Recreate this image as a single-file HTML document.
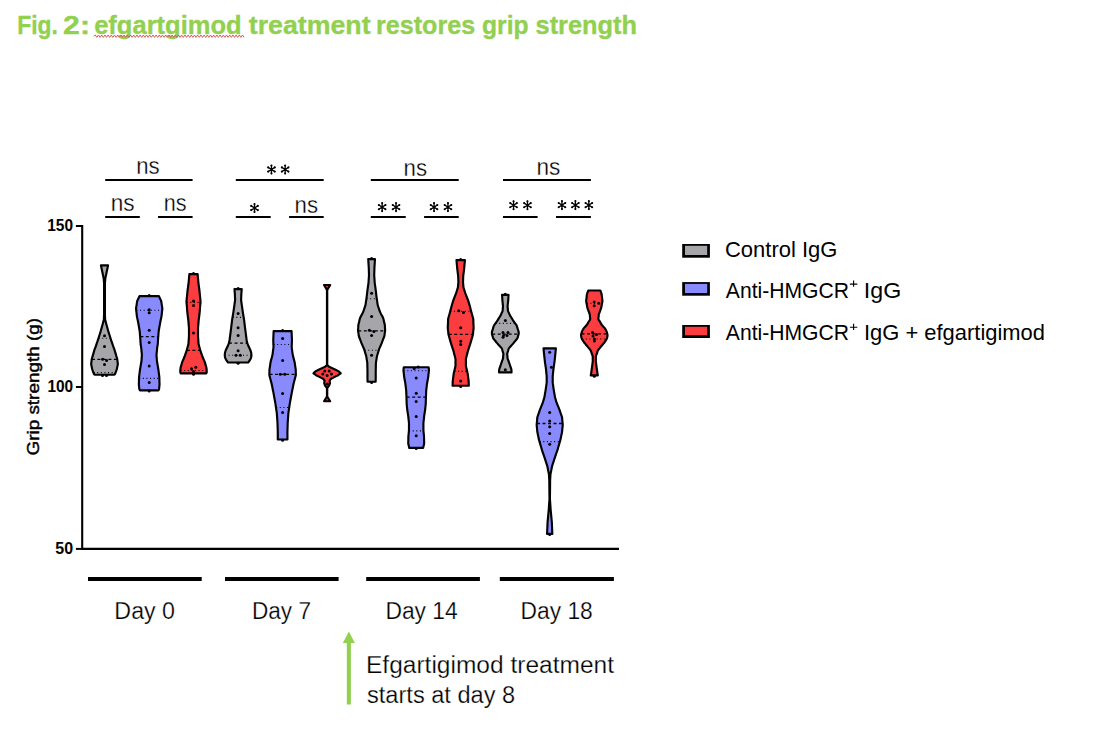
<!DOCTYPE html>
<html><head><meta charset="utf-8"><style>
html,body{margin:0;padding:0;background:#fff;width:1104px;height:739px;overflow:hidden;font-family:"Liberation Sans", sans-serif;}
</style></head><body>
<svg width="1104" height="739" viewBox="0 0 1104 739" style="position:absolute;left:0;top:0;font-family:'Liberation Sans', sans-serif"><text x="17.18" y="34.00" font-size="26.00" font-weight="bold" fill="#92d050" textLength="40.65" lengthAdjust="spacingAndGlyphs" stroke="#92d050" stroke-width="0.35">Fig.</text>
<text x="63.13" y="34.00" font-size="26.00" font-weight="bold" fill="#92d050" textLength="26.86" lengthAdjust="spacingAndGlyphs" stroke="#92d050" stroke-width="0.35">2:</text>
<text x="94.20" y="34.00" font-size="26.00" font-weight="bold" fill="#92d050" textLength="147.40" lengthAdjust="spacingAndGlyphs" stroke="#92d050" stroke-width="0.35">efgartgimod</text>
<text x="248.80" y="34.00" font-size="26.00" font-weight="bold" fill="#92d050" textLength="121.79" lengthAdjust="spacingAndGlyphs" stroke="#92d050" stroke-width="0.35">treatment</text>
<text x="375.99" y="34.00" font-size="26.00" font-weight="bold" fill="#92d050" textLength="99.21" lengthAdjust="spacingAndGlyphs" stroke="#92d050" stroke-width="0.35">restores</text>
<text x="482.01" y="34.00" font-size="26.00" font-weight="bold" fill="#92d050" textLength="46.59" lengthAdjust="spacingAndGlyphs" stroke="#92d050" stroke-width="0.35">grip</text>
<text x="535.59" y="34.00" font-size="26.00" font-weight="bold" fill="#92d050" textLength="101.42" lengthAdjust="spacingAndGlyphs" stroke="#92d050" stroke-width="0.35">strength</text>
<text x="47.24" y="230.80" font-size="17.20" font-weight="bold" fill="#000" textLength="25.76" lengthAdjust="spacingAndGlyphs">150</text>
<text x="47.43" y="392.00" font-size="17.20" font-weight="bold" fill="#000" textLength="25.75" lengthAdjust="spacingAndGlyphs">100</text>
<text x="55.25" y="553.90" font-size="17.20" font-weight="bold" fill="#000" textLength="17.79" lengthAdjust="spacingAndGlyphs">50</text>
<text x="114.36" y="618.70" font-size="23.00" font-weight="normal" fill="#000" textLength="60.66" lengthAdjust="spacingAndGlyphs" stroke="#fff" stroke-width="0.25">Day 0</text>
<text x="251.98" y="618.70" font-size="23.00" font-weight="normal" fill="#000" textLength="59.03" lengthAdjust="spacingAndGlyphs" stroke="#fff" stroke-width="0.25">Day 7</text>
<text x="385.39" y="618.70" font-size="23.00" font-weight="normal" fill="#000" textLength="72.41" lengthAdjust="spacingAndGlyphs" stroke="#fff" stroke-width="0.25">Day 14</text>
<text x="520.59" y="618.70" font-size="23.00" font-weight="normal" fill="#000" textLength="72.22" lengthAdjust="spacingAndGlyphs" stroke="#fff" stroke-width="0.25">Day 18</text>
<text x="136.21" y="173.70" font-size="23.30" font-weight="normal" fill="#000" textLength="23.40" lengthAdjust="spacingAndGlyphs" stroke="#fff" stroke-width="0.3">ns</text>
<text x="110.78" y="210.70" font-size="23.30" font-weight="normal" fill="#000" textLength="23.83" lengthAdjust="spacingAndGlyphs" stroke="#fff" stroke-width="0.3">ns</text>
<text x="163.82" y="210.70" font-size="23.30" font-weight="normal" fill="#000" textLength="22.78" lengthAdjust="spacingAndGlyphs" stroke="#fff" stroke-width="0.3">ns</text>
<text x="294.58" y="212.80" font-size="23.30" font-weight="normal" fill="#000" textLength="23.43" lengthAdjust="spacingAndGlyphs" stroke="#fff" stroke-width="0.3">ns</text>
<text x="403.58" y="176.00" font-size="23.30" font-weight="normal" fill="#000" textLength="23.43" lengthAdjust="spacingAndGlyphs" stroke="#fff" stroke-width="0.3">ns</text>
<text x="536.38" y="174.70" font-size="23.30" font-weight="normal" fill="#000" textLength="23.83" lengthAdjust="spacingAndGlyphs" stroke="#fff" stroke-width="0.3">ns</text>
<text x="725.00" y="256.50" font-size="22.40" font-weight="normal" fill="#000" textLength="112.41" lengthAdjust="spacingAndGlyphs">Control IgG</text>
<text x="725.80" y="297.70" font-size="22.40" font-weight="normal" fill="#000" textLength="123.19" lengthAdjust="spacingAndGlyphs">Anti-HMGCR</text>
<text x="863.88" y="297.70" font-size="22.40" font-weight="normal" fill="#000" textLength="37.40" lengthAdjust="spacingAndGlyphs">IgG</text>
<text x="725.80" y="340.30" font-size="22.40" font-weight="normal" fill="#000" textLength="123.19" lengthAdjust="spacingAndGlyphs">Anti-HMGCR</text>
<text x="863.98" y="340.30" font-size="22.40" font-weight="normal" fill="#000" textLength="181.03" lengthAdjust="spacingAndGlyphs">IgG + efgartigimod</text>
<text x="366.00" y="672.90" font-size="23.00" font-weight="normal" fill="#000" textLength="248.00" lengthAdjust="spacingAndGlyphs" stroke="#fff" stroke-width="0.25">Efgartigimod treatment</text>
<text x="367.00" y="702.80" font-size="23.00" font-weight="normal" fill="#000" textLength="148.19" lengthAdjust="spacingAndGlyphs" stroke="#fff" stroke-width="0.25">starts at day 8</text>
<path d="M849.9 284.15 H857.3 M853.6 280.60 V286.80" stroke="#000" stroke-width="1.1" fill="none"/>
<path d="M849.9 327.25 H857.3 M853.6 323.70 V329.90" stroke="#000" stroke-width="1.1" fill="none"/>
<path d="M93.7 36.2 L95.3 35.0 L96.9 37.4 L98.5 35.0 L100.1 37.4 L101.7 35.0 L103.3 37.4 L104.9 35.0 L106.5 37.4 L108.1 35.0 L109.7 37.4 L111.3 35.0 L112.9 37.4 L114.5 35.0 L116.1 37.4 L117.7 35.0 L119.3 37.4 L120.9 35.0 L122.5 37.4 L124.1 35.0 L125.7 37.4 L127.3 35.0 L128.9 37.4 L130.5 35.0 L132.1 37.4 L133.7 35.0 L135.3 37.4 L136.9 35.0 L138.5 37.4 L140.1 35.0 L141.7 37.4 L143.3 35.0 L144.9 37.4 L146.5 35.0 L148.1 37.4 L149.7 35.0 L151.3 37.4 L152.9 35.0 L154.5 37.4 L156.1 35.0 L157.7 37.4 L159.3 35.0 L160.9 37.4 L162.5 35.0 L164.1 37.4 L165.7 35.0 L167.3 37.4 L168.9 35.0 L170.5 37.4 L172.1 35.0 L173.7 37.4 L175.3 35.0 L176.9 37.4 L178.5 35.0 L180.1 37.4 L181.7 35.0 L183.3 37.4 L184.9 35.0 L186.5 37.4 L188.1 35.0 L189.7 37.4 L191.3 35.0 L192.9 37.4 L194.5 35.0 L196.1 37.4 L197.7 35.0 L199.3 37.4 L200.9 35.0 L202.5 37.4 L204.1 35.0 L205.7 37.4 L207.3 35.0 L208.9 37.4 L210.5 35.0 L212.1 37.4 L213.7 35.0 L215.3 37.4 L216.9 35.0 L218.5 37.4 L220.1 35.0 L221.7 37.4 L223.3 35.0 L224.9 37.4 L226.5 35.0 L228.1 37.4 L229.7 35.0 L231.3 37.4 L232.9 35.0 L234.5 37.4 L236.1 35.0 L237.7 37.4 L239.3 35.0 L240.9 37.4 L242.5 35.0 L244.1 37.4" fill="none" stroke="#e05a5a" stroke-width="1.0"/>
<path d="M82.2 225 L82.2 548.9 L619 548.9" fill="none" stroke="#000" stroke-width="2.1"/>
<line x1="75.9" y1="226.0" x2="82" y2="226.0" stroke="#000" stroke-width="2"/>
<line x1="75.9" y1="387.0" x2="82" y2="387.0" stroke="#000" stroke-width="2"/>
<line x1="75.9" y1="548.9" x2="82" y2="548.9" stroke="#000" stroke-width="2"/>
<text transform="translate(38.8 455.5) rotate(-90)" font-size="16.8" font-weight="normal" stroke="#000" stroke-width="0.45" textLength="137.5" lengthAdjust="spacingAndGlyphs">Grip strength (g)</text>
<rect x="88.0" y="577" width="113.7" height="4" fill="#000"/>
<rect x="225.0" y="577" width="113.6" height="4" fill="#000"/>
<rect x="366.2" y="577" width="113.7" height="4" fill="#000"/>
<rect x="499.8" y="577" width="114.1" height="4" fill="#000"/>
<rect x="105.2" y="179.0" width="87.4" height="2" fill="#000"/>
<rect x="235.8" y="179.0" width="87.9" height="2" fill="#000"/>
<rect x="370.8" y="179.0" width="87.9" height="2" fill="#000"/>
<rect x="503.0" y="179.0" width="87.9" height="2" fill="#000"/>
<rect x="105.2" y="216.0" width="34.6" height="2" fill="#000"/>
<rect x="158.0" y="216.0" width="34.6" height="2" fill="#000"/>
<rect x="235.8" y="216.0" width="34.9" height="2" fill="#000"/>
<rect x="289.1" y="216.0" width="34.6" height="2" fill="#000"/>
<rect x="370.8" y="216.0" width="34.9" height="2" fill="#000"/>
<rect x="424.1" y="216.0" width="34.6" height="2" fill="#000"/>
<rect x="503.0" y="216.0" width="34.6" height="2" fill="#000"/>
<rect x="556.0" y="216.0" width="34.9" height="2" fill="#000"/>
<path d="M271.45 169.50 L271.45 165.50 M271.45 169.50 L271.45 173.50 M271.45 169.50 L274.75 167.40 M271.45 169.50 L274.75 171.60 M271.45 169.50 L268.15 167.40 M271.45 169.50 L268.15 171.60 " stroke="#000" stroke-width="1.3" stroke-linecap="round" fill="none"/><circle cx="271.45" cy="165.50" r="1.05" fill="#000"/><circle cx="271.45" cy="173.50" r="1.05" fill="#000"/><circle cx="274.75" cy="167.40" r="1.05" fill="#000"/><circle cx="274.75" cy="171.60" r="1.05" fill="#000"/><circle cx="268.15" cy="167.40" r="1.05" fill="#000"/><circle cx="268.15" cy="171.60" r="1.05" fill="#000"/><path d="M285.15 169.50 L285.15 165.50 M285.15 169.50 L285.15 173.50 M285.15 169.50 L288.45 167.40 M285.15 169.50 L288.45 171.60 M285.15 169.50 L281.85 167.40 M285.15 169.50 L281.85 171.60 " stroke="#000" stroke-width="1.3" stroke-linecap="round" fill="none"/><circle cx="285.15" cy="165.50" r="1.05" fill="#000"/><circle cx="285.15" cy="173.50" r="1.05" fill="#000"/><circle cx="288.45" cy="167.40" r="1.05" fill="#000"/><circle cx="288.45" cy="171.60" r="1.05" fill="#000"/><circle cx="281.85" cy="167.40" r="1.05" fill="#000"/><circle cx="281.85" cy="171.60" r="1.05" fill="#000"/>
<path d="M254.50 208.00 L254.50 204.00 M254.50 208.00 L254.50 212.00 M254.50 208.00 L257.80 205.90 M254.50 208.00 L257.80 210.10 M254.50 208.00 L251.20 205.90 M254.50 208.00 L251.20 210.10 " stroke="#000" stroke-width="1.3" stroke-linecap="round" fill="none"/><circle cx="254.50" cy="204.00" r="1.05" fill="#000"/><circle cx="254.50" cy="212.00" r="1.05" fill="#000"/><circle cx="257.80" cy="205.90" r="1.05" fill="#000"/><circle cx="257.80" cy="210.10" r="1.05" fill="#000"/><circle cx="251.20" cy="205.90" r="1.05" fill="#000"/><circle cx="251.20" cy="210.10" r="1.05" fill="#000"/>
<path d="M382.15 207.10 L382.15 203.10 M382.15 207.10 L382.15 211.10 M382.15 207.10 L385.45 205.00 M382.15 207.10 L385.45 209.20 M382.15 207.10 L378.85 205.00 M382.15 207.10 L378.85 209.20 " stroke="#000" stroke-width="1.3" stroke-linecap="round" fill="none"/><circle cx="382.15" cy="203.10" r="1.05" fill="#000"/><circle cx="382.15" cy="211.10" r="1.05" fill="#000"/><circle cx="385.45" cy="205.00" r="1.05" fill="#000"/><circle cx="385.45" cy="209.20" r="1.05" fill="#000"/><circle cx="378.85" cy="205.00" r="1.05" fill="#000"/><circle cx="378.85" cy="209.20" r="1.05" fill="#000"/><path d="M396.05 207.10 L396.05 203.10 M396.05 207.10 L396.05 211.10 M396.05 207.10 L399.35 205.00 M396.05 207.10 L399.35 209.20 M396.05 207.10 L392.75 205.00 M396.05 207.10 L392.75 209.20 " stroke="#000" stroke-width="1.3" stroke-linecap="round" fill="none"/><circle cx="396.05" cy="203.10" r="1.05" fill="#000"/><circle cx="396.05" cy="211.10" r="1.05" fill="#000"/><circle cx="399.35" cy="205.00" r="1.05" fill="#000"/><circle cx="399.35" cy="209.20" r="1.05" fill="#000"/><circle cx="392.75" cy="205.00" r="1.05" fill="#000"/><circle cx="392.75" cy="209.20" r="1.05" fill="#000"/>
<path d="M434.05 207.10 L434.05 203.10 M434.05 207.10 L434.05 211.10 M434.05 207.10 L437.35 205.00 M434.05 207.10 L437.35 209.20 M434.05 207.10 L430.75 205.00 M434.05 207.10 L430.75 209.20 " stroke="#000" stroke-width="1.3" stroke-linecap="round" fill="none"/><circle cx="434.05" cy="203.10" r="1.05" fill="#000"/><circle cx="434.05" cy="211.10" r="1.05" fill="#000"/><circle cx="437.35" cy="205.00" r="1.05" fill="#000"/><circle cx="437.35" cy="209.20" r="1.05" fill="#000"/><circle cx="430.75" cy="205.00" r="1.05" fill="#000"/><circle cx="430.75" cy="209.20" r="1.05" fill="#000"/><path d="M447.95 207.10 L447.95 203.10 M447.95 207.10 L447.95 211.10 M447.95 207.10 L451.25 205.00 M447.95 207.10 L451.25 209.20 M447.95 207.10 L444.65 205.00 M447.95 207.10 L444.65 209.20 " stroke="#000" stroke-width="1.3" stroke-linecap="round" fill="none"/><circle cx="447.95" cy="203.10" r="1.05" fill="#000"/><circle cx="447.95" cy="211.10" r="1.05" fill="#000"/><circle cx="451.25" cy="205.00" r="1.05" fill="#000"/><circle cx="451.25" cy="209.20" r="1.05" fill="#000"/><circle cx="444.65" cy="205.00" r="1.05" fill="#000"/><circle cx="444.65" cy="209.20" r="1.05" fill="#000"/>
<path d="M513.55 205.20 L513.55 201.20 M513.55 205.20 L513.55 209.20 M513.55 205.20 L516.85 203.10 M513.55 205.20 L516.85 207.30 M513.55 205.20 L510.25 203.10 M513.55 205.20 L510.25 207.30 " stroke="#000" stroke-width="1.3" stroke-linecap="round" fill="none"/><circle cx="513.55" cy="201.20" r="1.05" fill="#000"/><circle cx="513.55" cy="209.20" r="1.05" fill="#000"/><circle cx="516.85" cy="203.10" r="1.05" fill="#000"/><circle cx="516.85" cy="207.30" r="1.05" fill="#000"/><circle cx="510.25" cy="203.10" r="1.05" fill="#000"/><circle cx="510.25" cy="207.30" r="1.05" fill="#000"/><path d="M527.45 205.20 L527.45 201.20 M527.45 205.20 L527.45 209.20 M527.45 205.20 L530.75 203.10 M527.45 205.20 L530.75 207.30 M527.45 205.20 L524.15 203.10 M527.45 205.20 L524.15 207.30 " stroke="#000" stroke-width="1.3" stroke-linecap="round" fill="none"/><circle cx="527.45" cy="201.20" r="1.05" fill="#000"/><circle cx="527.45" cy="209.20" r="1.05" fill="#000"/><circle cx="530.75" cy="203.10" r="1.05" fill="#000"/><circle cx="530.75" cy="207.30" r="1.05" fill="#000"/><circle cx="524.15" cy="203.10" r="1.05" fill="#000"/><circle cx="524.15" cy="207.30" r="1.05" fill="#000"/>
<path d="M561.95 205.10 L561.95 201.10 M561.95 205.10 L561.95 209.10 M561.95 205.10 L565.25 203.00 M561.95 205.10 L565.25 207.20 M561.95 205.10 L558.65 203.00 M561.95 205.10 L558.65 207.20 " stroke="#000" stroke-width="1.3" stroke-linecap="round" fill="none"/><circle cx="561.95" cy="201.10" r="1.05" fill="#000"/><circle cx="561.95" cy="209.10" r="1.05" fill="#000"/><circle cx="565.25" cy="203.00" r="1.05" fill="#000"/><circle cx="565.25" cy="207.20" r="1.05" fill="#000"/><circle cx="558.65" cy="203.00" r="1.05" fill="#000"/><circle cx="558.65" cy="207.20" r="1.05" fill="#000"/><path d="M575.40 205.10 L575.40 201.10 M575.40 205.10 L575.40 209.10 M575.40 205.10 L578.70 203.00 M575.40 205.10 L578.70 207.20 M575.40 205.10 L572.10 203.00 M575.40 205.10 L572.10 207.20 " stroke="#000" stroke-width="1.3" stroke-linecap="round" fill="none"/><circle cx="575.40" cy="201.10" r="1.05" fill="#000"/><circle cx="575.40" cy="209.10" r="1.05" fill="#000"/><circle cx="578.70" cy="203.00" r="1.05" fill="#000"/><circle cx="578.70" cy="207.20" r="1.05" fill="#000"/><circle cx="572.10" cy="203.00" r="1.05" fill="#000"/><circle cx="572.10" cy="207.20" r="1.05" fill="#000"/><path d="M588.85 205.10 L588.85 201.10 M588.85 205.10 L588.85 209.10 M588.85 205.10 L592.15 203.00 M588.85 205.10 L592.15 207.20 M588.85 205.10 L585.55 203.00 M588.85 205.10 L585.55 207.20 " stroke="#000" stroke-width="1.3" stroke-linecap="round" fill="none"/><circle cx="588.85" cy="201.10" r="1.05" fill="#000"/><circle cx="588.85" cy="209.10" r="1.05" fill="#000"/><circle cx="592.15" cy="203.00" r="1.05" fill="#000"/><circle cx="592.15" cy="207.20" r="1.05" fill="#000"/><circle cx="585.55" cy="203.00" r="1.05" fill="#000"/><circle cx="585.55" cy="207.20" r="1.05" fill="#000"/>
<path d="M100.92 265.38 L108.08 265.38 C107.97 265.86 107.66 267.32 107.45 268.29 C107.24 269.26 107.05 270.13 106.83 271.20 C106.60 272.27 106.34 273.53 106.10 274.70 C105.86 275.87 105.53 277.17 105.38 278.20 C105.22 279.23 105.23 279.97 105.15 280.85 C105.08 281.73 104.96 282.42 104.92 283.50 C104.89 284.58 104.92 286.07 104.92 287.35 C104.92 288.63 104.92 289.92 104.92 291.20 C104.92 292.48 104.92 293.77 104.92 295.05 C104.92 296.33 104.92 297.62 104.92 298.90 C104.92 300.18 104.92 301.47 104.92 302.75 C104.92 304.03 104.92 305.32 104.92 306.60 C104.92 307.88 104.92 309.17 104.92 310.45 C104.92 311.73 104.91 313.23 104.92 314.30 C104.94 315.37 104.99 316.00 105.03 316.85 C105.06 317.70 105.02 318.61 105.12 319.40 C105.23 320.19 105.49 320.87 105.67 321.60 C105.86 322.33 105.99 322.94 106.22 323.80 C106.46 324.66 106.78 325.76 107.06 326.73 C107.34 327.71 107.61 328.69 107.89 329.67 C108.17 330.64 108.43 331.62 108.72 332.60 C109.02 333.58 109.35 334.56 109.66 335.53 C109.97 336.51 110.28 337.49 110.59 338.47 C110.90 339.44 111.20 340.42 111.53 341.40 C111.85 342.38 112.21 343.36 112.56 344.33 C112.90 345.31 113.25 346.29 113.59 347.27 C113.94 348.24 114.31 349.22 114.62 350.20 C114.94 351.18 115.20 352.16 115.49 353.13 C115.78 354.11 116.07 355.09 116.36 356.07 C116.65 357.04 117.03 358.08 117.22 359.00 C117.42 359.92 117.43 360.73 117.53 361.60 C117.62 362.47 117.87 363.32 117.83 364.20 C117.78 365.07 117.46 365.97 117.28 366.85 C117.09 367.73 117.07 368.39 116.72 369.50 C116.38 370.61 115.61 372.63 115.22 373.50 C114.84 374.37 114.56 374.52 114.42 374.73 L94.58 374.73 C94.44 374.52 94.16 374.37 93.78 373.50 C93.39 372.63 92.62 370.61 92.28 369.50 C91.93 368.39 91.91 367.73 91.72 366.85 C91.54 365.97 91.22 365.07 91.17 364.20 C91.13 363.32 91.38 362.47 91.47 361.60 C91.57 360.73 91.58 359.92 91.78 359.00 C91.97 358.08 92.35 357.04 92.64 356.07 C92.93 355.09 93.22 354.11 93.51 353.13 C93.80 352.16 94.06 351.18 94.38 350.20 C94.69 349.22 95.06 348.24 95.41 347.27 C95.75 346.29 96.10 345.31 96.44 344.33 C96.79 343.36 97.15 342.38 97.47 341.40 C97.80 340.42 98.10 339.44 98.41 338.47 C98.72 337.49 99.03 336.51 99.34 335.53 C99.65 334.56 99.98 333.58 100.28 332.60 C100.57 331.62 100.83 330.64 101.11 329.67 C101.39 328.69 101.66 327.71 101.94 326.73 C102.22 325.76 102.54 324.66 102.78 323.80 C103.01 322.94 103.14 322.33 103.33 321.60 C103.51 320.87 103.77 320.19 103.88 319.40 C103.98 318.61 103.94 317.70 103.97 316.85 C104.01 316.00 104.06 315.37 104.08 314.30 C104.09 313.23 104.08 311.73 104.08 310.45 C104.08 309.17 104.08 307.88 104.08 306.60 C104.08 305.32 104.08 304.03 104.08 302.75 C104.08 301.47 104.08 300.18 104.08 298.90 C104.08 297.62 104.08 296.33 104.08 295.05 C104.08 293.77 104.08 292.48 104.08 291.20 C104.08 289.92 104.08 288.63 104.08 287.35 C104.08 286.07 104.11 284.58 104.08 283.50 C104.04 282.42 103.92 281.73 103.85 280.85 C103.77 279.97 103.78 279.23 103.62 278.20 C103.47 277.17 103.14 275.87 102.90 274.70 C102.66 273.53 102.40 272.27 102.17 271.20 C101.95 270.13 101.76 269.26 101.55 268.29 C101.34 267.32 101.03 265.86 100.92 265.38 Z" fill="#a5a5aa" stroke="#000" stroke-width="2.15" stroke-linejoin="round"/><line x1="91.93" y1="359.40" x2="117.07" y2="359.40" stroke="#000" stroke-width="1.30" stroke-dasharray="3 2.5"/><line x1="98.66" y1="338.30" x2="110.34" y2="338.30" stroke="#000" stroke-width="1.10" stroke-dasharray="1 2.6"/><line x1="93.64" y1="372.60" x2="115.36" y2="372.60" stroke="#000" stroke-width="1.10" stroke-dasharray="1 2.6"/><circle cx="104.50" cy="335.70" r="1.5" fill="#000"/><circle cx="104.50" cy="346.60" r="1.5" fill="#000"/><circle cx="102.60" cy="359.20" r="1.5" fill="#000"/><circle cx="106.60" cy="360.40" r="1.5" fill="#000"/><circle cx="104.50" cy="364.40" r="1.5" fill="#000"/><circle cx="102.50" cy="375.50" r="1.5" fill="#000"/><circle cx="106.50" cy="375.50" r="1.5" fill="#000"/>
<path d="M139.47 296.18 L158.92 296.18 C159.12 296.59 159.69 297.85 160.07 298.69 C160.46 299.52 160.94 300.16 161.22 301.20 C161.51 302.24 161.59 303.67 161.77 304.90 C161.96 306.13 162.30 307.36 162.32 308.60 C162.35 309.84 162.06 311.10 161.92 312.35 C161.79 313.60 161.72 314.86 161.52 316.10 C161.33 317.34 161.02 318.57 160.77 319.80 C160.52 321.03 160.26 322.26 160.02 323.50 C159.79 324.74 159.59 326.00 159.38 327.25 C159.16 328.50 158.88 329.76 158.72 331.00 C158.57 332.24 158.52 333.47 158.42 334.70 C158.32 335.93 158.21 337.27 158.12 338.40 C158.04 339.52 157.99 340.43 157.92 341.45 C157.86 342.47 157.84 343.51 157.72 344.50 C157.61 345.49 157.37 346.29 157.22 347.40 C157.08 348.51 156.99 349.90 156.88 351.15 C156.76 352.40 156.55 353.77 156.52 354.90 C156.50 356.02 156.66 356.90 156.72 357.90 C156.79 358.90 156.81 359.91 156.92 360.90 C157.04 361.89 157.26 362.88 157.42 363.87 C157.59 364.86 157.76 365.84 157.92 366.83 C158.09 367.82 158.27 368.69 158.42 369.80 C158.58 370.91 158.72 372.27 158.88 373.50 C159.03 374.73 159.23 375.96 159.32 377.20 C159.42 378.44 159.39 379.70 159.42 380.95 C159.46 382.20 159.55 383.70 159.52 384.70 C159.50 385.70 159.36 386.20 159.27 386.95 C159.19 387.70 159.17 388.64 159.02 389.20 C158.88 389.76 158.52 390.14 158.42 390.32 L139.97 390.32 C139.88 390.14 139.52 389.76 139.38 389.20 C139.23 388.64 139.21 387.70 139.12 386.95 C139.04 386.20 138.90 385.70 138.88 384.70 C138.85 383.70 138.94 382.20 138.97 380.95 C139.01 379.70 138.98 378.44 139.07 377.20 C139.17 375.96 139.37 374.73 139.52 373.50 C139.67 372.27 139.82 370.91 139.97 369.80 C140.13 368.69 140.31 367.82 140.47 366.83 C140.64 365.84 140.81 364.86 140.97 363.87 C141.14 362.88 141.36 361.89 141.47 360.90 C141.59 359.91 141.61 358.90 141.67 357.90 C141.74 356.90 141.90 356.02 141.88 354.90 C141.85 353.77 141.64 352.40 141.52 351.15 C141.41 349.90 141.32 348.51 141.17 347.40 C141.03 346.29 140.79 345.49 140.67 344.50 C140.56 343.51 140.54 342.47 140.47 341.45 C140.41 340.43 140.36 339.52 140.27 338.40 C140.19 337.27 140.07 335.93 139.97 334.70 C139.88 333.47 139.83 332.24 139.67 331.00 C139.52 329.76 139.24 328.50 139.02 327.25 C138.81 326.00 138.61 324.74 138.38 323.50 C138.14 322.26 137.88 321.03 137.62 319.80 C137.38 318.57 137.07 317.34 136.88 316.10 C136.68 314.86 136.61 313.60 136.47 312.35 C136.34 311.10 136.05 309.84 136.07 308.60 C136.10 307.36 136.44 306.13 136.62 304.90 C136.81 303.67 136.89 302.24 137.17 301.20 C137.46 300.16 137.94 299.52 138.32 298.69 C138.71 297.85 139.28 296.59 139.47 296.18 Z" fill="#8a8aff" stroke="#000" stroke-width="2.15" stroke-linejoin="round"/><line x1="140.33" y1="336.60" x2="158.07" y2="336.60" stroke="#000" stroke-width="1.30" stroke-dasharray="3 2.5"/><line x1="136.46" y1="310.30" x2="161.94" y2="310.30" stroke="#000" stroke-width="1.10" stroke-dasharray="1 2.6"/><line x1="139.24" y1="378.40" x2="159.16" y2="378.40" stroke="#000" stroke-width="1.10" stroke-dasharray="1 2.6"/><circle cx="149.20" cy="295.50" r="1.5" fill="#000"/><circle cx="149.20" cy="309.70" r="1.5" fill="#000"/><circle cx="149.20" cy="312.70" r="1.5" fill="#000"/><circle cx="149.20" cy="330.20" r="1.5" fill="#000"/><circle cx="149.20" cy="342.40" r="1.5" fill="#000"/><circle cx="149.20" cy="366.10" r="1.5" fill="#000"/><circle cx="149.20" cy="382.50" r="1.5" fill="#000"/><circle cx="149.20" cy="391.00" r="1.5" fill="#000"/>
<path d="M189.38 274.18 L197.62 274.18 C197.67 274.66 197.80 276.11 197.89 277.08 C197.98 278.05 198.07 279.02 198.16 279.99 C198.25 280.96 198.30 281.80 198.43 282.90 C198.55 284.00 198.76 285.37 198.93 286.60 C199.09 287.83 199.28 289.06 199.43 290.30 C199.57 291.54 199.67 292.79 199.79 294.03 C199.91 295.28 200.04 296.52 200.16 297.77 C200.28 299.01 200.51 300.26 200.53 301.50 C200.54 302.74 200.32 303.99 200.22 305.23 C200.12 306.48 200.03 307.72 199.93 308.97 C199.83 310.21 199.75 311.47 199.62 312.70 C199.50 313.93 199.33 315.13 199.18 316.35 C199.03 317.57 198.84 318.94 198.72 320.00 C198.61 321.06 198.57 321.80 198.49 322.70 C198.41 323.60 198.34 324.50 198.26 325.40 C198.18 326.30 198.06 327.20 198.03 328.10 C197.99 329.00 198.03 329.90 198.03 330.80 C198.03 331.70 198.03 332.60 198.03 333.50 C198.03 334.40 197.99 335.30 198.03 336.20 C198.06 337.10 198.16 338.00 198.22 338.90 C198.29 339.80 198.36 340.70 198.43 341.60 C198.49 342.50 198.44 343.31 198.62 344.30 C198.81 345.29 199.22 346.47 199.53 347.55 C199.83 348.63 200.11 349.78 200.43 350.80 C200.74 351.82 201.09 352.70 201.43 353.65 C201.76 354.60 202.06 355.55 202.43 356.50 C202.79 357.45 203.22 358.40 203.62 359.35 C204.03 360.30 204.49 361.25 204.82 362.20 C205.16 363.15 205.36 364.10 205.62 365.05 C205.89 366.00 206.24 366.76 206.43 367.90 C206.61 369.04 206.76 370.98 206.72 371.90 C206.69 372.82 206.31 373.17 206.22 373.43 L180.78 373.43 C180.69 373.17 180.31 372.82 180.28 371.90 C180.24 370.98 180.39 369.04 180.57 367.90 C180.76 366.76 181.11 366.00 181.38 365.05 C181.64 364.10 181.84 363.15 182.18 362.20 C182.51 361.25 182.97 360.30 183.38 359.35 C183.78 358.40 184.21 357.45 184.57 356.50 C184.94 355.55 185.24 354.60 185.57 353.65 C185.91 352.70 186.26 351.82 186.57 350.80 C186.89 349.78 187.17 348.63 187.47 347.55 C187.78 346.47 188.19 345.29 188.38 344.30 C188.56 343.31 188.51 342.50 188.57 341.60 C188.64 340.70 188.71 339.80 188.78 338.90 C188.84 338.00 188.94 337.10 188.97 336.20 C189.01 335.30 188.97 334.40 188.97 333.50 C188.97 332.60 188.97 331.70 188.97 330.80 C188.97 329.90 189.01 329.00 188.97 328.10 C188.94 327.20 188.82 326.30 188.74 325.40 C188.66 324.50 188.59 323.60 188.51 322.70 C188.43 321.80 188.39 321.06 188.28 320.00 C188.16 318.94 187.97 317.57 187.82 316.35 C187.67 315.13 187.50 313.93 187.38 312.70 C187.25 311.47 187.17 310.21 187.07 308.97 C186.97 307.72 186.88 306.48 186.78 305.23 C186.68 303.99 186.46 302.74 186.47 301.50 C186.49 300.26 186.72 299.01 186.84 297.77 C186.96 296.52 187.09 295.28 187.21 294.03 C187.33 292.79 187.43 291.54 187.57 290.30 C187.72 289.06 187.91 287.83 188.07 286.60 C188.24 285.37 188.45 284.00 188.57 282.90 C188.70 281.80 188.75 280.96 188.84 279.99 C188.93 279.02 189.02 278.05 189.11 277.08 C189.20 276.11 189.33 274.66 189.38 274.18 Z" fill="#fb3d40" stroke="#000" stroke-width="2.15" stroke-linejoin="round"/><line x1="186.89" y1="350.40" x2="200.11" y2="350.40" stroke="#000" stroke-width="1.30" stroke-dasharray="3 2.5"/><line x1="186.75" y1="302.40" x2="200.25" y2="302.40" stroke="#000" stroke-width="1.10" stroke-dasharray="1 2.6"/><line x1="180.58" y1="370.50" x2="206.42" y2="370.50" stroke="#000" stroke-width="1.10" stroke-dasharray="1 2.6"/><circle cx="193.50" cy="273.50" r="1.5" fill="#000"/><circle cx="193.50" cy="301.10" r="1.5" fill="#000"/><circle cx="193.50" cy="305.60" r="1.5" fill="#000"/><circle cx="193.50" cy="333.00" r="1.5" fill="#000"/><circle cx="191.50" cy="368.70" r="1.5" fill="#000"/><circle cx="195.80" cy="367.20" r="1.5" fill="#000"/><circle cx="193.50" cy="371.50" r="1.5" fill="#000"/><circle cx="193.50" cy="374.30" r="1.5" fill="#000"/>
<path d="M234.47 289.18 L241.72 289.18 C241.69 289.59 241.59 290.85 241.53 291.69 C241.46 292.52 241.38 293.29 241.32 294.20 C241.27 295.11 241.26 296.17 241.22 297.15 C241.19 298.13 241.08 299.18 241.12 300.10 C241.17 301.03 241.36 301.83 241.47 302.70 C241.59 303.57 241.67 304.24 241.82 305.30 C241.97 306.36 242.19 307.80 242.38 309.05 C242.56 310.30 242.73 311.56 242.92 312.80 C243.12 314.04 243.32 315.27 243.53 316.50 C243.73 317.73 243.95 318.96 244.12 320.20 C244.30 321.44 244.42 322.70 244.57 323.95 C244.72 325.20 244.87 326.43 245.03 327.70 C245.18 328.97 245.36 330.27 245.53 331.55 C245.69 332.83 245.88 334.31 246.03 335.40 C246.17 336.49 246.26 337.20 246.38 338.10 C246.49 339.00 246.55 339.90 246.72 340.80 C246.90 341.70 247.12 342.60 247.42 343.50 C247.72 344.40 248.12 345.30 248.53 346.20 C248.93 347.10 249.42 347.98 249.82 348.90 C250.22 349.82 250.66 350.70 250.92 351.70 C251.19 352.70 251.42 353.83 251.42 354.90 C251.42 355.97 251.32 357.02 250.92 358.10 C250.52 359.18 249.49 360.66 249.03 361.40 C248.56 362.14 248.28 362.34 248.12 362.53 L228.07 362.53 C227.92 362.34 227.64 362.14 227.17 361.40 C226.71 360.66 225.68 359.18 225.28 358.10 C224.88 357.02 224.78 355.97 224.78 354.90 C224.78 353.83 225.01 352.70 225.28 351.70 C225.54 350.70 225.97 349.82 226.38 348.90 C226.78 347.98 227.27 347.10 227.67 346.20 C228.07 345.30 228.47 344.40 228.78 343.50 C229.08 342.60 229.30 341.70 229.47 340.80 C229.65 339.90 229.71 339.00 229.82 338.10 C229.94 337.20 230.03 336.49 230.17 335.40 C230.32 334.31 230.51 332.83 230.67 331.55 C230.84 330.27 231.02 328.97 231.17 327.70 C231.33 326.43 231.47 325.20 231.62 323.95 C231.78 322.70 231.90 321.44 232.07 320.20 C232.25 318.96 232.47 317.73 232.67 316.50 C232.88 315.27 233.08 314.04 233.28 312.80 C233.47 311.56 233.64 310.30 233.82 309.05 C234.01 307.80 234.22 306.36 234.38 305.30 C234.53 304.24 234.61 303.57 234.72 302.70 C234.84 301.83 235.03 301.03 235.07 300.10 C235.12 299.18 235.01 298.13 234.97 297.15 C234.94 296.17 234.93 295.11 234.88 294.20 C234.82 293.29 234.74 292.52 234.67 291.69 C234.61 290.85 234.51 289.59 234.47 289.18 Z" fill="#a5a5aa" stroke="#000" stroke-width="2.15" stroke-linejoin="round"/><line x1="229.05" y1="343.20" x2="247.15" y2="343.20" stroke="#000" stroke-width="1.30" stroke-dasharray="3 2.5"/><line x1="232.73" y1="317.40" x2="243.47" y2="317.40" stroke="#000" stroke-width="1.10" stroke-dasharray="1 2.6"/><line x1="225.02" y1="355.20" x2="251.18" y2="355.20" stroke="#000" stroke-width="1.10" stroke-dasharray="1 2.6"/><circle cx="238.10" cy="288.60" r="1.5" fill="#000"/><circle cx="238.10" cy="313.50" r="1.5" fill="#000"/><circle cx="238.10" cy="327.70" r="1.5" fill="#000"/><circle cx="238.10" cy="335.40" r="1.5" fill="#000"/><circle cx="238.10" cy="350.80" r="1.5" fill="#000"/><circle cx="236.00" cy="355.20" r="1.5" fill="#000"/><circle cx="240.30" cy="355.20" r="1.5" fill="#000"/><circle cx="238.10" cy="363.30" r="1.5" fill="#000"/>
<path d="M273.62 331.18 L291.58 331.18 C291.59 331.66 291.65 333.11 291.69 334.08 C291.73 335.05 291.77 336.02 291.81 336.99 C291.85 337.96 291.92 338.80 291.93 339.90 C291.93 341.00 291.86 342.37 291.83 343.60 C291.79 344.83 291.66 346.06 291.73 347.30 C291.79 348.54 292.06 349.80 292.23 351.05 C292.39 352.30 292.48 353.56 292.73 354.80 C292.97 356.04 293.36 357.27 293.68 358.50 C293.99 359.73 294.38 360.96 294.62 362.20 C294.88 363.44 294.99 364.70 295.18 365.95 C295.36 367.20 295.62 368.63 295.73 369.70 C295.83 370.77 295.76 371.47 295.78 372.35 C295.79 373.23 295.95 374.03 295.83 375.00 C295.70 375.97 295.29 377.11 295.03 378.17 C294.76 379.22 294.49 380.28 294.23 381.33 C293.96 382.39 293.66 383.44 293.43 384.50 C293.19 385.56 293.00 386.61 292.79 387.67 C292.58 388.72 292.37 389.78 292.16 390.83 C291.95 391.89 291.73 392.95 291.53 394.00 C291.33 395.05 291.15 396.09 290.96 397.13 C290.77 398.18 290.58 399.22 290.39 400.27 C290.20 401.31 290.00 402.35 289.83 403.40 C289.65 404.45 289.51 405.51 289.36 406.57 C289.20 407.62 289.05 408.68 288.89 409.73 C288.74 410.79 288.54 411.84 288.43 412.90 C288.31 413.96 288.27 415.01 288.19 416.07 C288.11 417.12 288.04 418.18 287.96 419.23 C287.88 420.29 287.78 421.34 287.73 422.40 C287.67 423.46 287.66 424.51 287.62 425.57 C287.59 426.62 287.56 427.68 287.53 428.73 C287.49 429.79 287.44 430.74 287.43 431.90 C287.41 433.06 287.43 434.44 287.43 435.71 C287.43 436.98 287.43 438.89 287.43 439.53 L277.78 439.53 C277.78 438.89 277.78 436.98 277.78 435.71 C277.78 434.44 277.79 433.06 277.78 431.90 C277.76 430.74 277.71 429.79 277.68 428.73 C277.64 427.68 277.61 426.62 277.58 425.57 C277.54 424.51 277.53 423.46 277.48 422.40 C277.42 421.34 277.32 420.29 277.24 419.23 C277.16 418.18 277.09 417.12 277.01 416.07 C276.93 415.01 276.89 413.96 276.78 412.90 C276.66 411.84 276.46 410.79 276.31 409.73 C276.15 408.68 276.00 407.62 275.84 406.57 C275.69 405.51 275.55 404.45 275.38 403.40 C275.20 402.35 275.00 401.31 274.81 400.27 C274.62 399.22 274.43 398.18 274.24 397.13 C274.05 396.09 273.88 395.05 273.68 394.00 C273.48 392.95 273.25 391.89 273.04 390.83 C272.83 389.78 272.62 388.72 272.41 387.67 C272.20 386.61 272.01 385.56 271.78 384.50 C271.54 383.44 271.24 382.39 270.98 381.33 C270.71 380.28 270.44 379.22 270.18 378.17 C269.91 377.11 269.50 375.97 269.38 375.00 C269.25 374.03 269.41 373.23 269.43 372.35 C269.44 371.47 269.38 370.77 269.48 369.70 C269.58 368.63 269.84 367.20 270.03 365.95 C270.21 364.70 270.33 363.44 270.58 362.20 C270.83 360.96 271.21 359.73 271.53 358.50 C271.84 357.27 272.23 356.04 272.48 354.80 C272.72 353.56 272.81 352.30 272.98 351.05 C273.14 349.80 273.41 348.54 273.48 347.30 C273.54 346.06 273.41 344.83 273.38 343.60 C273.34 342.37 273.27 341.00 273.28 339.90 C273.28 338.80 273.35 337.96 273.39 336.99 C273.43 336.02 273.47 335.05 273.51 334.08 C273.55 333.11 273.61 331.66 273.62 331.18 Z" fill="#8a8aff" stroke="#000" stroke-width="2.15" stroke-linejoin="round"/><line x1="269.59" y1="374.30" x2="295.61" y2="374.30" stroke="#000" stroke-width="1.30" stroke-dasharray="3 2.5"/><line x1="273.60" y1="344.50" x2="291.60" y2="344.50" stroke="#000" stroke-width="1.10" stroke-dasharray="1 2.6"/><line x1="276.18" y1="407.50" x2="289.02" y2="407.50" stroke="#000" stroke-width="1.10" stroke-dasharray="1 2.6"/><circle cx="282.60" cy="330.50" r="1.5" fill="#000"/><circle cx="282.60" cy="338.60" r="1.5" fill="#000"/><circle cx="282.60" cy="360.60" r="1.5" fill="#000"/><circle cx="280.30" cy="374.20" r="1.5" fill="#000"/><circle cx="284.80" cy="374.20" r="1.5" fill="#000"/><circle cx="282.60" cy="393.50" r="1.5" fill="#000"/><circle cx="282.60" cy="412.40" r="1.5" fill="#000"/><circle cx="282.60" cy="440.20" r="1.5" fill="#000"/>
<path d="M324.03 284.97 L330.18 284.97 L327.23 289.90 L327.23 365.20 L329.62 367.10 L335.03 369.50 L338.83 371.40 L340.73 373.30 L338.12 375.20 L334.33 377.10 L330.73 379.00 L329.62 380.90 L330.03 383.20 L329.12 385.60 L327.23 388.00 L327.23 396.50 L330.12 401.23 L324.08 401.23 L326.98 396.50 L326.98 388.00 L325.08 385.60 L324.18 383.20 L324.58 380.90 L323.48 379.00 L319.88 377.10 L316.08 375.20 L313.48 373.30 L315.38 371.40 L319.18 369.50 L324.58 367.10 L326.98 365.20 L326.98 289.90 L324.03 284.97 Z" fill="#fb3d40" stroke="#000" stroke-width="2.15" stroke-linejoin="round"/><circle cx="324.80" cy="371.10" r="1.5" fill="#000"/><circle cx="329.20" cy="371.10" r="1.5" fill="#000"/><circle cx="322.80" cy="374.00" r="1.5" fill="#000"/><circle cx="327.10" cy="375.50" r="1.5" fill="#000"/><circle cx="331.50" cy="374.00" r="1.5" fill="#000"/><circle cx="327.30" cy="384.00" r="1.5" fill="#000"/>
<path d="M368.23 259.18 L374.98 259.18 C374.94 259.66 374.85 261.11 374.79 262.08 C374.73 263.05 374.67 264.02 374.61 264.99 C374.55 265.96 374.47 266.80 374.43 267.90 C374.38 269.00 374.36 270.37 374.33 271.60 C374.29 272.83 374.20 274.06 374.23 275.30 C374.25 276.54 374.39 277.80 374.48 279.05 C374.56 280.30 374.60 281.56 374.73 282.80 C374.85 284.04 375.06 285.27 375.23 286.50 C375.39 287.73 375.57 288.96 375.73 290.20 C375.88 291.44 376.03 292.70 376.18 293.95 C376.32 295.20 376.46 296.47 376.62 297.70 C376.79 298.93 376.99 300.13 377.18 301.35 C377.36 302.57 377.45 303.83 377.73 305.00 C378.00 306.17 378.46 307.23 378.83 308.35 C379.19 309.47 379.47 310.59 379.93 311.70 C380.38 312.81 381.03 313.90 381.58 315.00 C382.13 316.10 382.82 317.19 383.23 318.30 C383.63 319.41 383.76 320.53 384.03 321.65 C384.29 322.77 384.67 323.98 384.83 325.00 C384.98 326.02 384.93 326.87 384.98 327.80 C385.03 328.73 385.17 329.68 385.12 330.60 C385.08 331.53 384.86 332.43 384.73 333.35 C384.59 334.27 384.60 335.08 384.33 336.10 C384.05 337.12 383.49 338.33 383.08 339.45 C382.66 340.57 382.27 341.69 381.83 342.80 C381.38 343.91 380.89 345.00 380.43 346.10 C379.96 347.20 379.43 348.29 379.03 349.40 C378.63 350.51 378.36 351.63 378.03 352.75 C377.69 353.87 377.28 354.98 377.03 356.10 C376.77 357.22 376.66 358.33 376.48 359.45 C376.29 360.57 376.03 361.75 375.93 362.80 C375.82 363.85 375.88 364.78 375.86 365.77 C375.84 366.76 375.81 367.74 375.79 368.73 C375.77 369.72 375.74 370.66 375.73 371.70 C375.71 372.74 375.73 373.90 375.73 375.00 C375.73 376.10 375.74 377.18 375.73 378.30 C375.71 379.42 375.64 381.15 375.62 381.73 L367.58 381.73 C367.56 381.15 367.49 379.42 367.48 378.30 C367.46 377.18 367.48 376.10 367.48 375.00 C367.48 373.90 367.49 372.74 367.48 371.70 C367.46 370.66 367.43 369.72 367.41 368.73 C367.39 367.74 367.36 366.76 367.34 365.77 C367.32 364.78 367.38 363.85 367.28 362.80 C367.17 361.75 366.91 360.57 366.73 359.45 C366.54 358.33 366.43 357.22 366.18 356.10 C365.92 354.98 365.51 353.87 365.18 352.75 C364.84 351.63 364.57 350.51 364.18 349.40 C363.78 348.29 363.24 347.20 362.78 346.10 C362.31 345.00 361.82 343.91 361.38 342.80 C360.93 341.69 360.54 340.57 360.12 339.45 C359.71 338.33 359.15 337.12 358.88 336.10 C358.60 335.08 358.61 334.27 358.48 333.35 C358.34 332.43 358.12 331.53 358.08 330.60 C358.03 329.68 358.18 328.73 358.23 327.80 C358.28 326.87 358.22 326.02 358.38 325.00 C358.53 323.98 358.91 322.77 359.18 321.65 C359.44 320.53 359.57 319.41 359.98 318.30 C360.38 317.19 361.07 316.10 361.62 315.00 C362.18 313.90 362.82 312.81 363.28 311.70 C363.73 310.59 364.01 309.47 364.38 308.35 C364.74 307.23 365.20 306.17 365.48 305.00 C365.75 303.83 365.84 302.57 366.03 301.35 C366.21 300.13 366.41 298.93 366.58 297.70 C366.74 296.47 366.88 295.20 367.03 293.95 C367.18 292.70 367.32 291.44 367.48 290.20 C367.63 288.96 367.81 287.73 367.98 286.50 C368.14 285.27 368.35 284.04 368.48 282.80 C368.60 281.56 368.64 280.30 368.73 279.05 C368.81 277.80 368.95 276.54 368.98 275.30 C369.00 274.06 368.91 272.83 368.88 271.60 C368.84 270.37 368.82 269.00 368.78 267.90 C368.73 266.80 368.65 265.96 368.59 264.99 C368.53 264.02 368.47 263.05 368.41 262.08 C368.35 261.11 368.26 259.66 368.23 259.18 Z" fill="#a5a5aa" stroke="#000" stroke-width="2.15" stroke-linejoin="round"/><line x1="358.30" y1="330.80" x2="384.90" y2="330.80" stroke="#000" stroke-width="1.30" stroke-dasharray="3 2.5"/><line x1="366.61" y1="298.80" x2="376.59" y2="298.80" stroke="#000" stroke-width="1.10" stroke-dasharray="1 2.6"/><line x1="364.64" y1="350.30" x2="378.56" y2="350.30" stroke="#000" stroke-width="1.10" stroke-dasharray="1 2.6"/><circle cx="371.60" cy="258.50" r="1.5" fill="#000"/><circle cx="371.60" cy="293.20" r="1.5" fill="#000"/><circle cx="371.60" cy="316.40" r="1.5" fill="#000"/><circle cx="369.40" cy="330.30" r="1.5" fill="#000"/><circle cx="373.90" cy="331.40" r="1.5" fill="#000"/><circle cx="371.60" cy="335.60" r="1.5" fill="#000"/><circle cx="371.60" cy="355.20" r="1.5" fill="#000"/><circle cx="371.60" cy="382.50" r="1.5" fill="#000"/>
<path d="M403.77 367.27 L428.62 367.27 C428.68 367.76 428.93 369.15 428.93 370.20 C428.92 371.25 428.69 372.43 428.57 373.55 C428.46 374.67 428.38 375.77 428.22 376.90 C428.07 378.02 427.82 379.17 427.62 380.30 C427.43 381.43 427.19 382.57 427.02 383.70 C426.86 384.83 426.76 385.97 426.62 387.10 C426.49 388.23 426.32 389.38 426.22 390.50 C426.13 391.62 426.12 392.73 426.07 393.85 C426.02 394.97 425.97 396.07 425.93 397.20 C425.88 398.32 425.86 399.47 425.82 400.60 C425.79 401.73 425.79 402.95 425.72 404.00 C425.66 405.05 425.52 405.93 425.43 406.90 C425.33 407.87 425.26 408.76 425.12 409.80 C424.99 410.84 424.79 412.03 424.62 413.15 C424.46 414.27 424.27 415.38 424.12 416.50 C423.98 417.62 423.89 418.77 423.77 419.90 C423.66 421.03 423.48 422.17 423.43 423.30 C423.37 424.43 423.43 425.57 423.43 426.70 C423.43 427.83 423.38 428.98 423.43 430.10 C423.48 431.23 423.62 432.33 423.72 433.45 C423.82 434.57 423.97 435.68 424.02 436.80 C424.08 437.93 424.06 439.07 424.07 440.20 C424.09 441.33 424.20 442.67 424.12 443.60 C424.05 444.53 423.79 445.04 423.62 445.76 C423.46 446.48 423.21 447.56 423.12 447.93 L409.27 447.93 C409.19 447.56 408.94 446.48 408.77 445.76 C408.61 445.04 408.35 444.53 408.27 443.60 C408.20 442.67 408.31 441.33 408.32 440.20 C408.34 439.07 408.32 437.93 408.38 436.80 C408.43 435.68 408.58 434.57 408.68 433.45 C408.77 432.33 408.92 431.23 408.97 430.10 C409.02 428.98 408.97 427.83 408.97 426.70 C408.97 425.57 409.03 424.43 408.97 423.30 C408.92 422.17 408.74 421.03 408.62 419.90 C408.51 418.77 408.42 417.62 408.27 416.50 C408.13 415.38 407.94 414.27 407.77 413.15 C407.61 412.03 407.41 410.84 407.27 409.80 C407.14 408.76 407.07 407.87 406.97 406.90 C406.88 405.93 406.74 405.05 406.68 404.00 C406.61 402.95 406.61 401.73 406.57 400.60 C406.54 399.47 406.52 398.32 406.47 397.20 C406.43 396.07 406.38 394.97 406.32 393.85 C406.27 392.73 406.27 391.62 406.18 390.50 C406.08 389.38 405.91 388.23 405.77 387.10 C405.64 385.97 405.54 384.83 405.38 383.70 C405.21 382.57 404.97 381.43 404.77 380.30 C404.57 379.17 404.33 378.02 404.18 376.90 C404.02 375.77 403.94 374.67 403.82 373.55 C403.71 372.43 403.48 371.25 403.47 370.20 C403.47 369.15 403.72 367.76 403.77 367.27 Z" fill="#8a8aff" stroke="#000" stroke-width="2.15" stroke-linejoin="round"/><line x1="406.68" y1="397.20" x2="425.72" y2="397.20" stroke="#000" stroke-width="1.30" stroke-dasharray="3 2.5"/><line x1="403.74" y1="370.80" x2="428.66" y2="370.80" stroke="#000" stroke-width="1.10" stroke-dasharray="1 2.6"/><line x1="409.10" y1="430.90" x2="423.30" y2="430.90" stroke="#000" stroke-width="1.10" stroke-dasharray="1 2.6"/><circle cx="414.20" cy="368.50" r="1.5" fill="#000"/><circle cx="418.20" cy="366.90" r="1.5" fill="#000"/><circle cx="416.20" cy="378.10" r="1.5" fill="#000"/><circle cx="416.20" cy="393.30" r="1.5" fill="#000"/><circle cx="416.20" cy="401.40" r="1.5" fill="#000"/><circle cx="416.20" cy="416.50" r="1.5" fill="#000"/><circle cx="416.20" cy="435.80" r="1.5" fill="#000"/><circle cx="416.20" cy="448.50" r="1.5" fill="#000"/>
<path d="M456.47 260.18 L464.93 260.18 C464.88 260.66 464.75 262.11 464.66 263.08 C464.57 264.05 464.48 265.02 464.39 265.99 C464.30 266.96 464.24 267.80 464.12 268.90 C464.01 270.00 463.83 271.37 463.68 272.60 C463.52 273.83 463.32 275.18 463.22 276.30 C463.13 277.42 463.16 278.30 463.12 279.30 C463.09 280.30 463.00 281.37 463.02 282.30 C463.05 283.23 463.19 284.03 463.27 284.90 C463.36 285.77 463.32 286.57 463.52 287.50 C463.72 288.43 464.16 289.50 464.47 290.50 C464.79 291.50 465.05 292.44 465.43 293.50 C465.80 294.56 466.29 295.73 466.72 296.85 C467.16 297.97 467.68 299.24 468.02 300.20 C468.37 301.16 468.52 301.80 468.77 302.60 C469.02 303.40 469.25 304.02 469.52 305.00 C469.80 305.98 470.12 307.30 470.43 308.45 C470.73 309.60 471.02 310.75 471.32 311.90 C471.63 313.05 471.96 314.20 472.27 315.35 C472.59 316.50 473.04 317.71 473.22 318.80 C473.41 319.89 473.31 320.84 473.36 321.87 C473.40 322.89 473.45 323.91 473.49 324.93 C473.54 325.96 473.67 326.91 473.62 328.00 C473.58 329.09 473.36 330.30 473.22 331.45 C473.09 332.60 473.08 333.66 472.82 334.90 C472.57 336.14 472.06 337.57 471.68 338.90 C471.29 340.23 470.86 341.78 470.52 342.90 C470.19 344.02 469.95 344.70 469.66 345.60 C469.37 346.50 469.08 347.40 468.79 348.30 C468.50 349.20 468.24 349.88 467.93 351.00 C467.61 352.12 467.26 353.67 466.93 355.00 C466.59 356.33 466.09 357.76 465.93 359.00 C465.76 360.24 465.93 361.30 465.93 362.45 C465.93 363.60 465.83 364.88 465.93 365.90 C466.02 366.92 466.32 367.70 466.52 368.60 C466.72 369.50 466.93 370.40 467.12 371.30 C467.32 372.20 467.55 372.98 467.72 374.00 C467.90 375.02 468.02 376.30 468.18 377.45 C468.33 378.60 468.53 379.92 468.62 380.90 C468.72 381.88 468.69 382.51 468.72 383.31 C468.76 384.12 468.81 385.32 468.82 385.73 L452.57 385.73 C452.59 385.32 452.64 384.12 452.68 383.31 C452.71 382.51 452.68 381.88 452.77 380.90 C452.87 379.92 453.07 378.60 453.22 377.45 C453.38 376.30 453.50 375.02 453.68 374.00 C453.85 372.98 454.07 372.20 454.27 371.30 C454.47 370.40 454.68 369.50 454.88 368.60 C455.07 367.70 455.38 366.92 455.47 365.90 C455.57 364.88 455.47 363.60 455.47 362.45 C455.47 361.30 455.64 360.24 455.47 359.00 C455.31 357.76 454.81 356.33 454.47 355.00 C454.14 353.67 453.79 352.12 453.47 351.00 C453.16 349.88 452.90 349.20 452.61 348.30 C452.32 347.40 452.03 346.50 451.74 345.60 C451.45 344.70 451.21 344.02 450.88 342.90 C450.54 341.78 450.11 340.23 449.72 338.90 C449.34 337.57 448.83 336.14 448.57 334.90 C448.32 333.66 448.31 332.60 448.18 331.45 C448.04 330.30 447.82 329.09 447.77 328.00 C447.73 326.91 447.86 325.96 447.91 324.93 C447.95 323.91 448.00 322.89 448.04 321.87 C448.09 320.84 447.99 319.89 448.18 318.80 C448.36 317.71 448.81 316.50 449.12 315.35 C449.44 314.20 449.77 313.05 450.07 311.90 C450.38 310.75 450.67 309.60 450.97 308.45 C451.27 307.30 451.60 305.98 451.88 305.00 C452.15 304.02 452.38 303.40 452.62 302.60 C452.88 301.80 453.03 301.16 453.38 300.20 C453.72 299.24 454.24 297.97 454.68 296.85 C455.11 295.73 455.60 294.56 455.97 293.50 C456.35 292.44 456.61 291.50 456.93 290.50 C457.24 289.50 457.68 288.43 457.88 287.50 C458.07 286.57 458.04 285.77 458.12 284.90 C458.21 284.03 458.35 283.23 458.38 282.30 C458.40 281.37 458.31 280.30 458.27 279.30 C458.24 278.30 458.27 277.42 458.18 276.30 C458.08 275.18 457.88 273.83 457.72 272.60 C457.57 271.37 457.39 270.00 457.27 268.90 C457.16 267.80 457.10 266.96 457.01 265.99 C456.92 265.02 456.83 264.05 456.74 263.08 C456.65 262.11 456.52 260.66 456.47 260.18 Z" fill="#fb3d40" stroke="#000" stroke-width="2.15" stroke-linejoin="round"/><line x1="448.71" y1="334.30" x2="472.69" y2="334.30" stroke="#000" stroke-width="1.30" stroke-dasharray="3 2.5"/><line x1="450.43" y1="311.30" x2="470.97" y2="311.30" stroke="#000" stroke-width="1.10" stroke-dasharray="1 2.6"/><line x1="454.45" y1="371.40" x2="466.95" y2="371.40" stroke="#000" stroke-width="1.10" stroke-dasharray="1 2.6"/><circle cx="460.70" cy="259.50" r="1.5" fill="#000"/><circle cx="458.80" cy="310.70" r="1.5" fill="#000"/><circle cx="463.50" cy="312.50" r="1.5" fill="#000"/><circle cx="460.70" cy="327.80" r="1.5" fill="#000"/><circle cx="460.70" cy="341.20" r="1.5" fill="#000"/><circle cx="460.70" cy="344.40" r="1.5" fill="#000"/><circle cx="460.70" cy="380.90" r="1.5" fill="#000"/><circle cx="460.70" cy="386.50" r="1.5" fill="#000"/>
<path d="M502.07 294.88 L508.53 294.88 C508.50 295.32 508.43 296.65 508.38 297.54 C508.32 298.43 508.30 299.25 508.23 300.20 C508.15 301.15 508.03 302.23 507.93 303.25 C507.82 304.27 507.64 305.39 507.62 306.30 C507.61 307.21 507.76 307.90 507.82 308.70 C507.89 309.50 507.83 310.34 508.03 311.10 C508.23 311.86 508.69 312.53 509.03 313.25 C509.36 313.97 509.61 314.63 510.03 315.40 C510.44 316.17 511.03 317.03 511.53 317.85 C512.02 318.67 512.47 319.44 513.02 320.30 C513.58 321.16 514.26 322.10 514.88 323.00 C515.49 323.90 516.26 324.74 516.73 325.70 C517.19 326.66 517.36 327.73 517.67 328.75 C517.99 329.77 518.47 330.91 518.62 331.80 C518.78 332.69 518.73 333.38 518.62 334.10 C518.52 334.83 518.23 335.47 518.02 336.15 C517.82 336.83 517.83 337.47 517.42 338.20 C517.02 338.93 516.19 339.77 515.58 340.55 C514.96 341.33 514.43 342.06 513.73 342.90 C513.02 343.74 512.12 344.70 511.32 345.60 C510.52 346.50 509.47 347.40 508.93 348.30 C508.38 349.20 508.36 350.10 508.07 351.00 C507.79 351.90 507.33 352.85 507.23 353.70 C507.12 354.55 507.36 355.30 507.43 356.10 C507.49 356.90 507.43 357.65 507.62 358.50 C507.82 359.35 508.26 360.30 508.57 361.20 C508.89 362.10 509.22 363.00 509.53 363.90 C509.83 364.80 510.12 365.70 510.43 366.60 C510.73 367.50 511.14 368.33 511.32 369.30 C511.51 370.27 511.49 371.90 511.53 372.43 L499.07 372.43 C499.11 371.90 499.09 370.27 499.28 369.30 C499.46 368.33 499.88 367.50 500.18 366.60 C500.48 365.70 500.77 364.80 501.07 363.90 C501.38 363.00 501.71 362.10 502.03 361.20 C502.34 360.30 502.78 359.35 502.98 358.50 C503.17 357.65 503.11 356.90 503.18 356.10 C503.24 355.30 503.48 354.55 503.38 353.70 C503.27 352.85 502.81 351.90 502.53 351.00 C502.24 350.10 502.22 349.20 501.68 348.30 C501.13 347.40 500.08 346.50 499.28 345.60 C498.48 344.70 497.58 343.74 496.88 342.90 C496.17 342.06 495.64 341.33 495.03 340.55 C494.41 339.77 493.58 338.93 493.18 338.20 C492.77 337.47 492.77 336.83 492.57 336.15 C492.38 335.47 492.08 334.83 491.98 334.10 C491.88 333.38 491.82 332.69 491.98 331.80 C492.13 330.91 492.61 329.77 492.93 328.75 C493.24 327.73 493.41 326.66 493.88 325.70 C494.34 324.74 495.11 323.90 495.73 323.00 C496.34 322.10 497.02 321.16 497.57 320.30 C498.13 319.44 498.57 318.67 499.07 317.85 C499.57 317.03 500.16 316.17 500.57 315.40 C500.99 314.63 501.24 313.97 501.57 313.25 C501.91 312.53 502.38 311.86 502.57 311.10 C502.77 310.34 502.71 309.50 502.78 308.70 C502.84 307.90 502.99 307.21 502.98 306.30 C502.96 305.39 502.78 304.27 502.68 303.25 C502.57 302.23 502.45 301.15 502.38 300.20 C502.30 299.25 502.28 298.43 502.23 297.54 C502.18 296.65 502.10 295.32 502.07 294.88 Z" fill="#a5a5aa" stroke="#000" stroke-width="2.15" stroke-linejoin="round"/><line x1="492.20" y1="334.20" x2="518.40" y2="334.20" stroke="#000" stroke-width="1.30" stroke-dasharray="3 2.5"/><line x1="495.65" y1="323.40" x2="514.95" y2="323.40" stroke="#000" stroke-width="1.10" stroke-dasharray="1 2.6"/><circle cx="505.30" cy="294.20" r="1.5" fill="#000"/><circle cx="505.40" cy="320.60" r="1.5" fill="#000"/><circle cx="503.00" cy="332.50" r="1.5" fill="#000"/><circle cx="508.00" cy="332.50" r="1.5" fill="#000"/><circle cx="503.50" cy="335.50" r="1.5" fill="#000"/><circle cx="507.00" cy="335.50" r="1.5" fill="#000"/><circle cx="503.00" cy="337.30" r="1.5" fill="#000"/><circle cx="505.30" cy="369.80" r="1.5" fill="#000"/>
<path d="M543.53 348.38 L555.88 348.38 C555.83 348.86 555.69 350.32 555.60 351.29 C555.51 352.26 555.44 353.10 555.33 354.20 C555.21 355.30 555.06 356.67 554.93 357.90 C554.79 359.13 554.68 360.36 554.53 361.60 C554.37 362.84 554.16 364.10 553.98 365.35 C553.79 366.60 553.58 367.86 553.43 369.10 C553.28 370.34 553.19 371.57 553.08 372.80 C552.96 374.03 552.78 375.38 552.73 376.50 C552.67 377.62 552.73 378.50 552.73 379.50 C552.73 380.50 552.65 381.44 552.73 382.50 C552.80 383.56 553.03 384.73 553.18 385.85 C553.33 386.97 553.47 388.19 553.62 389.20 C553.78 390.21 553.94 391.00 554.09 391.90 C554.25 392.80 554.40 393.70 554.56 394.60 C554.71 395.50 554.82 396.43 555.03 397.30 C555.23 398.18 555.53 399.00 555.78 399.85 C556.03 400.70 556.15 401.35 556.53 402.40 C556.90 403.45 557.53 404.90 558.03 406.15 C558.53 407.40 559.07 408.66 559.53 409.90 C559.98 411.14 560.36 412.37 560.78 413.60 C561.19 414.83 561.76 416.06 562.03 417.30 C562.29 418.54 562.26 419.80 562.38 421.05 C562.49 422.30 562.73 423.56 562.73 424.80 C562.73 426.04 562.49 427.27 562.38 428.50 C562.26 429.73 562.22 430.96 562.03 432.20 C561.83 433.44 561.49 434.70 561.23 435.95 C560.96 437.20 560.72 438.50 560.43 439.70 C560.13 440.90 559.77 441.99 559.44 443.13 C559.11 444.28 558.79 445.42 558.46 446.57 C558.13 447.71 557.79 448.98 557.48 450.00 C557.16 451.02 556.85 451.80 556.54 452.70 C556.23 453.60 555.92 454.50 555.61 455.40 C555.30 456.30 554.98 457.20 554.68 458.10 C554.38 459.00 554.10 459.90 553.81 460.80 C553.52 461.70 553.23 462.60 552.94 463.50 C552.65 464.40 552.31 465.30 552.08 466.20 C551.84 467.10 551.72 468.00 551.54 468.90 C551.36 469.80 551.19 470.70 551.01 471.60 C550.83 472.50 550.59 473.38 550.48 474.30 C550.36 475.23 550.36 476.20 550.30 477.15 C550.24 478.10 550.16 478.89 550.12 480.00 C550.09 481.11 550.10 482.53 550.09 483.80 C550.07 485.07 550.06 486.33 550.05 487.60 C550.03 488.87 550.02 490.13 550.00 491.40 C549.99 492.67 549.98 493.93 549.97 495.20 C549.95 496.47 549.89 497.79 549.93 499.00 C549.96 500.21 550.08 501.29 550.16 502.43 C550.24 503.58 550.31 504.72 550.39 505.87 C550.47 507.01 550.54 508.19 550.62 509.30 C550.71 510.41 550.83 511.45 550.93 512.52 C551.03 513.60 551.12 514.67 551.23 515.75 C551.33 516.83 551.43 517.90 551.53 518.98 C551.63 520.05 551.75 521.01 551.83 522.20 C551.90 523.39 551.94 524.81 551.99 526.11 C552.05 527.41 552.10 528.71 552.16 530.02 C552.21 531.32 552.30 533.27 552.33 533.92 L547.08 533.92 C547.10 533.27 547.19 531.32 547.24 530.02 C547.30 528.71 547.35 527.41 547.41 526.11 C547.46 524.81 547.50 523.39 547.58 522.20 C547.65 521.01 547.77 520.05 547.88 518.98 C547.98 517.90 548.08 516.83 548.18 515.75 C548.28 514.67 548.38 513.60 548.48 512.52 C548.58 511.45 548.69 510.41 548.78 509.30 C548.86 508.19 548.93 507.01 549.01 505.87 C549.09 504.72 549.16 503.58 549.24 502.43 C549.32 501.29 549.44 500.21 549.48 499.00 C549.51 497.79 549.45 496.47 549.44 495.20 C549.42 493.93 549.41 492.67 549.40 491.40 C549.38 490.13 549.37 488.87 549.36 487.60 C549.34 486.33 549.33 485.07 549.32 483.80 C549.30 482.53 549.31 481.11 549.28 480.00 C549.24 478.89 549.16 478.10 549.10 477.15 C549.04 476.20 549.04 475.23 548.93 474.30 C548.81 473.38 548.57 472.50 548.39 471.60 C548.21 470.70 548.04 469.80 547.86 468.90 C547.68 468.00 547.56 467.10 547.33 466.20 C547.09 465.30 546.75 464.40 546.46 463.50 C546.17 462.60 545.88 461.70 545.59 460.80 C545.30 459.90 545.02 459.00 544.73 458.10 C544.43 457.20 544.10 456.30 543.79 455.40 C543.48 454.50 543.17 453.60 542.86 452.70 C542.55 451.80 542.24 451.02 541.93 450.00 C541.61 448.98 541.27 447.71 540.94 446.57 C540.61 445.42 540.29 444.28 539.96 443.13 C539.63 441.99 539.27 440.90 538.98 439.70 C538.68 438.50 538.44 437.20 538.18 435.95 C537.91 434.70 537.57 433.44 537.38 432.20 C537.18 430.96 537.14 429.73 537.03 428.50 C536.91 427.27 536.68 426.04 536.68 424.80 C536.68 423.56 536.91 422.30 537.03 421.05 C537.14 419.80 537.11 418.54 537.38 417.30 C537.64 416.06 538.21 414.83 538.62 413.60 C539.04 412.37 539.42 411.14 539.88 409.90 C540.33 408.66 540.88 407.40 541.38 406.15 C541.88 404.90 542.50 403.45 542.88 402.40 C543.25 401.35 543.38 400.70 543.62 399.85 C543.88 399.00 544.17 398.18 544.38 397.30 C544.58 396.43 544.69 395.50 544.84 394.60 C545.00 393.70 545.15 392.80 545.31 391.90 C545.46 391.00 545.62 390.21 545.78 389.20 C545.93 388.19 546.08 386.97 546.23 385.85 C546.38 384.73 546.60 383.56 546.68 382.50 C546.75 381.44 546.68 380.50 546.68 379.50 C546.68 378.50 546.73 377.62 546.68 376.50 C546.62 375.38 546.44 374.03 546.33 372.80 C546.21 371.57 546.12 370.34 545.98 369.10 C545.83 367.86 545.61 366.60 545.43 365.35 C545.24 364.10 545.03 362.84 544.88 361.60 C544.72 360.36 544.61 359.13 544.48 357.90 C544.34 356.67 544.19 355.30 544.08 354.20 C543.96 353.10 543.89 352.26 543.80 351.29 C543.71 350.32 543.57 348.86 543.53 348.38 Z" fill="#8a8aff" stroke="#000" stroke-width="2.15" stroke-linejoin="round"/><line x1="537.00" y1="423.50" x2="562.40" y2="423.50" stroke="#000" stroke-width="1.30" stroke-dasharray="3 2.5"/><line x1="539.72" y1="441.60" x2="559.68" y2="441.60" stroke="#000" stroke-width="1.10" stroke-dasharray="1 2.6"/><circle cx="549.70" cy="352.30" r="1.5" fill="#000"/><circle cx="551.40" cy="367.20" r="1.5" fill="#000"/><circle cx="549.70" cy="412.50" r="1.5" fill="#000"/><circle cx="549.70" cy="420.90" r="1.5" fill="#000"/><circle cx="549.70" cy="426.70" r="1.5" fill="#000"/><circle cx="549.70" cy="433.40" r="1.5" fill="#000"/><circle cx="549.70" cy="444.30" r="1.5" fill="#000"/><circle cx="549.70" cy="534.60" r="1.5" fill="#000"/>
<path d="M588.27 290.47 L600.32 290.47 C600.54 291.10 601.34 293.02 601.62 294.20 C601.91 295.38 601.89 296.43 602.02 297.55 C602.16 298.67 602.46 299.77 602.42 300.90 C602.39 302.02 602.02 303.17 601.82 304.30 C601.62 305.43 601.52 306.57 601.22 307.70 C600.92 308.83 600.42 309.97 600.02 311.10 C599.62 312.23 599.06 313.54 598.82 314.50 C598.59 315.46 598.69 316.07 598.62 316.85 C598.56 317.63 598.19 318.36 598.42 319.20 C598.66 320.04 599.49 321.00 600.02 321.90 C600.56 322.80 601.06 323.80 601.62 324.60 C602.19 325.40 602.82 326.00 603.42 326.70 C604.02 327.40 604.69 328.00 605.22 328.80 C605.76 329.60 606.24 330.47 606.62 331.50 C607.01 332.53 607.49 333.82 607.52 335.00 C607.56 336.18 607.29 337.42 606.82 338.60 C606.36 339.78 605.37 341.17 604.72 342.10 C604.08 343.03 603.56 343.50 602.97 344.20 C602.39 344.90 601.79 345.60 601.22 346.30 C600.66 347.00 600.12 347.70 599.57 348.40 C599.02 349.10 598.37 349.68 597.92 350.50 C597.48 351.32 597.26 352.40 596.92 353.35 C596.59 354.30 596.10 355.32 595.92 356.20 C595.75 357.08 595.89 357.83 595.88 358.65 C595.86 359.47 595.77 360.17 595.82 361.10 C595.88 362.03 596.09 363.20 596.22 364.25 C596.36 365.30 596.49 366.40 596.62 367.40 C596.76 368.40 596.89 369.30 597.02 370.25 C597.16 371.20 597.29 372.24 597.42 373.10 C597.56 373.96 597.76 375.04 597.82 375.43 L590.77 375.43 C590.84 375.04 591.04 373.96 591.17 373.10 C591.31 372.24 591.44 371.20 591.57 370.25 C591.71 369.30 591.84 368.40 591.97 367.40 C592.11 366.40 592.24 365.30 592.38 364.25 C592.51 363.20 592.72 362.03 592.77 361.10 C592.83 360.17 592.74 359.47 592.72 358.65 C592.71 357.83 592.85 357.08 592.67 356.20 C592.50 355.32 592.01 354.30 591.67 353.35 C591.34 352.40 591.12 351.32 590.67 350.50 C590.23 349.68 589.57 349.10 589.02 348.40 C588.48 347.70 587.94 347.00 587.38 346.30 C586.81 345.60 586.21 344.90 585.62 344.20 C585.04 343.50 584.52 343.03 583.88 342.10 C583.23 341.17 582.24 339.78 581.77 338.60 C581.31 337.42 581.04 336.18 581.07 335.00 C581.11 333.82 581.59 332.53 581.97 331.50 C582.36 330.47 582.84 329.60 583.38 328.80 C583.91 328.00 584.57 327.40 585.17 326.70 C585.77 326.00 586.41 325.40 586.97 324.60 C587.54 323.80 588.04 322.80 588.57 321.90 C589.11 321.00 589.94 320.04 590.17 319.20 C590.41 318.36 590.04 317.63 589.97 316.85 C589.91 316.07 590.01 315.46 589.77 314.50 C589.54 313.54 588.97 312.23 588.57 311.10 C588.17 309.97 587.67 308.83 587.38 307.70 C587.08 306.57 586.98 305.43 586.77 304.30 C586.57 303.17 586.21 302.02 586.17 300.90 C586.14 299.77 586.44 298.67 586.57 297.55 C586.71 296.43 586.69 295.38 586.97 294.20 C587.26 293.02 588.06 291.10 588.27 290.47 Z" fill="#fb3d40" stroke="#000" stroke-width="2.15" stroke-linejoin="round"/><line x1="581.58" y1="333.80" x2="607.02" y2="333.80" stroke="#000" stroke-width="1.30" stroke-dasharray="3 2.5"/><line x1="586.80" y1="303.30" x2="601.80" y2="303.30" stroke="#000" stroke-width="1.10" stroke-dasharray="1 2.6"/><line x1="582.21" y1="339.00" x2="606.38" y2="339.00" stroke="#000" stroke-width="1.10" stroke-dasharray="1 2.6"/><circle cx="594.20" cy="301.90" r="1.5" fill="#000"/><circle cx="594.20" cy="305.70" r="1.5" fill="#000"/><circle cx="598.70" cy="303.30" r="1.5" fill="#000"/><circle cx="592.50" cy="332.50" r="1.5" fill="#000"/><circle cx="596.50" cy="334.50" r="1.5" fill="#000"/><circle cx="593.00" cy="336.00" r="1.5" fill="#000"/><circle cx="594.30" cy="339.00" r="1.5" fill="#000"/><circle cx="594.30" cy="341.00" r="1.5" fill="#000"/><circle cx="594.30" cy="376.20" r="1.5" fill="#000"/>
<rect x="682.2" y="244.00" width="27.7" height="13.70" fill="#000"/>
<rect x="685" y="245.80" width="22.2" height="9.20" fill="#a5a5aa"/>
<rect x="682.2" y="282.10" width="27.7" height="13.60" fill="#000"/>
<rect x="685" y="283.90" width="22.2" height="9.10" fill="#8a8aff"/>
<rect x="682.2" y="325.00" width="27.7" height="13.00" fill="#000"/>
<rect x="685" y="326.80" width="22.2" height="8.50" fill="#fb3d40"/>
<rect x="346.8" y="641" width="4.1" height="63.5" fill="#92d050"/>
<path d="M342.8 642.9 L348.85 631.6 L354.9 642.9 Z" fill="#92d050"/></svg>
</body></html>
